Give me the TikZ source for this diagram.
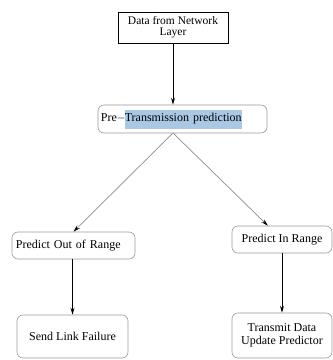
\documentclass[tikz,border=0pt]{standalone}
\usepackage{fontspec}
\setmainfont{Liberation Serif}
\usetikzlibrary{arrows.meta}
\definecolor{hl}{HTML}{A9C8E4}
\definecolor{boxgray}{HTML}{9A9A9A}
\definecolor{linegray}{HTML}{8C8C8C}
\tikzset{
  sqbox/.style={draw=black, line width=0.9pt, minimum width=110pt, minimum height=31pt, inner sep=1pt, align=center, font=\fontsize{11.5}{11}\selectfont},
  rbox/.style={draw=boxgray, line width=0.6pt, rounded corners=6pt, inner sep=1pt, align=center, font=\fontsize{12}{13}\selectfont},
  arr/.style={-{Stealth[length=7pt,width=4pt]}, line width=0.8pt, black},
  garr/.style={-{Stealth[length=7pt,width=4pt,color=black,fill=black]}, line width=0.7pt, draw=linegray}
}
\begin{document}
\begin{tikzpicture}[x=1pt,y=-1pt]
\useasboundingbox (0,0) rectangle (333,360);
\node[sqbox] (top) at (173,27.5) {Data from Network\\Layer};
\node[rbox, minimum width=169pt, minimum height=28pt, inner xsep=3pt, text width=163pt, align=left] (pre) at (182.5,119) {Pre\kern-0.5pt$-$\kern-1pt\colorbox{hl}{\hspace{-3pt}\strut Transmission prediction\hspace{-3pt}}};
\node[rbox, minimum width=123pt, minimum height=27pt, inner xsep=4pt, text width=115pt, align=left] (por) at (73.5,245.5) {Predict Out of Range};
\node[rbox, minimum width=100pt, minimum height=27pt] (pir) at (282,239.5) {Predict In Range};
\node[rbox, minimum width=111pt, minimum height=43pt] (slf) at (72.5,336.5) {Send Link Failure};
\node[rbox, minimum width=100pt, minimum height=45pt] (tdu) at (282,335.5) {Transmit Data\\Update Predictor};
\coordinate (fork) at (173,133);
\draw[arr] (top.south) -- (top.south |- pre.north);
\draw[garr] (fork) -- (por.north);
\draw[garr] (fork) -- (pir);
\draw[arr] (slf.north |- por.south) -- (slf.north);
\draw[arr] (pir.south) -- (tdu.north);
\end{tikzpicture}
\end{document}
